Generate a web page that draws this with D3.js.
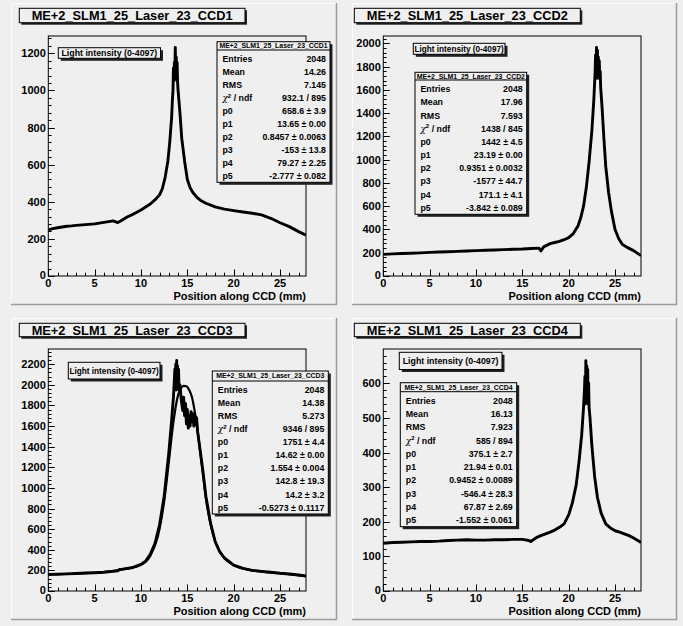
<!DOCTYPE html>
<html><head><meta charset="utf-8">
<script src="https://cdn.jsdelivr.net/npm/d3@7"></script>
<style>
body{margin:0;background:#efefef;}
svg{display:block;font-family:"Liberation Sans",Arial,Helvetica,sans-serif;font-weight:bold;}
</style>
</head><body><svg id="c" width="683" height="626"></svg>
<script>
// ---------------- data ----------------
const padTitles = ["ME+2_SLM1_25_Laser_23_CCD1","ME+2_SLM1_25_Laser_23_CCD2","ME+2_SLM1_25_Laser_23_CCD3","ME+2_SLM1_25_Laser_23_CCD4"];
const legendLabel = "Light intensity (0-4097)";
const xAxisTitle = "Position along CCD (mm)";
const xTickLabels = [0,5,10,15,20,25];
const ccd1YTicks = [0,200,400,600,800,1000,1200];
const ccd2YTicks = [0,200,400,600,800,1000,1200,1400,1600,1800,2000];
const ccd3YTicks = [0,200,400,600,800,1000,1200,1400,1600,1800,2000,2200];
const ccd4YTicks = [0,100,200,300,400,500,600];
const yMaxes = [1293, 2063, 2347, 699];
const xMaxes = [27.8, 27.8, 27.8, 27.8];

const statLabels = ["Entries","Mean","RMS","chi2","p0","p1","p2","p3","p4","p5"];
const ccd1Stats = ["2048","14.26","7.145","932.1 / 895","658.6 \u00b1 3.9","13.65 \u00b1 0.00","0.8457 \u00b1 0.0063","-153 \u00b1 13.8","79.27 \u00b1 2.25","-2.777 \u00b1 0.082"];
const ccd2Stats = ["2048","17.96","7.593","1438 / 845","1442 \u00b1 4.5","23.19 \u00b1 0.00","0.9351 \u00b1 0.0032","-1577 \u00b1 44.7","171.1 \u00b1 4.1","-3.842 \u00b1 0.089"];
const ccd3Stats = ["2048","14.38","5.273","9346 / 895","1751 \u00b1 4.4","14.62 \u00b1 0.00","1.554 \u00b1 0.004","142.8 \u00b1 19.3","14.2 \u00b1 3.2","-0.5273 \u00b1 0.1117"];
const ccd4Stats = ["2048","16.13","7.923","585 / 894","375.1 \u00b1 2.7","21.94 \u00b1 0.01","0.9452 \u00b1 0.0089","-546.4 \u00b1 28.3","67.87 \u00b1 2.69","-1.552 \u00b1 0.061"];

const ccd1X = [0,0.5,1,1.5,2,2.5,3,4,5,6,7,7.5,7.8,8.5,9,10,10.5,11,11.5,12,12.3,12.6,12.9,13.1,13.3,13.4,13.45,13.5,13.55,13.6,13.65,13.7,13.75,13.8,13.85,13.9,13.95,14.0,14.2,14.4,14.7,15.0,15.3,15.6,16,16.5,17,18,19,20,21,22,23,24,25,26,27,27.8];
const ccd1Y = [248,255,260,264,268,270,273,277,281,289,297,288,296,318,329,356,372,388,410,437,470,530,620,720,850,960,1000,1120,1050,1150,1080,1231,1060,1180,1090,1150,1040,1000,880,740,620,520,475,450,425,405,392,372,360,352,345,338,329,311,287,266,239,220];

const ccd2X = [0,1,2,3,4,5,6,7,8,9,10,11,12,13,14,15,16,16.8,17.0,17.3,18,18.5,19,19.5,20,20.5,21,21.3,21.6,21.9,22.2,22.5,22.7,22.85,22.9,22.95,23.0,23.05,23.1,23.15,23.2,23.25,23.3,23.35,23.4,23.45,23.6,23.8,24.0,24.3,24.6,25,25.4,25.8,26.3,27,27.8];
const ccd2Y = [186,190,193,196,199,203,206,209,212,215,218,221,224,227,230,232,236,240,215,250,278,288,298,312,330,365,430,500,600,760,980,1250,1500,1750,1900,1700,1965,1720,1940,1700,1880,1730,1850,1700,1760,1620,1450,1180,940,720,560,400,320,270,246,218,175];

const ccd3X = [0,1,2,3,4,5,6,7,7.5,7.7,8,9,10,10.5,11,11.5,12,12.5,13,13.3,13.5,13.6,13.65,13.7,13.75,13.8,13.85,13.9,13.95,14.0,14.05,14.1,14.2,14.35,14.5,14.6,14.7,14.8,14.9,15.0,15.1,15.2,15.3,15.4,15.5,15.6,15.7,15.8,15.9,16.0,16.1,16.4,16.7,17,17.5,18,18.5,19,20,21,22,23,24,25,26,27,27.8];
const ccd3Y = [161,163,166,170,174,177,182,190,195,210,212,225,258,290,355,460,640,920,1340,1650,1880,2050,2150,1980,2200,1950,2235,2000,2180,2050,2150,1950,2000,1850,1750,1880,1700,1820,1620,1760,1580,1700,1600,1740,1640,1720,1600,1700,1620,1680,1550,1350,1150,920,660,480,380,320,250,220,200,190,182,172,165,155,145];
const ccd3FitX = [0,5,8,10,11,12,12.5,13,13.5,14,14.3,14.6,14.9,15.2,15.5,15.8,16.1,16.4,16.7,17,17.5,18,19,20,22,25,27.8];
const ccd3FitY = [161,177,210,255,340,600,870,1250,1640,1900,1965,1990,1985,1950,1880,1740,1560,1340,1120,900,650,480,320,250,200,172,145];

const ccd4X = [0,1,2,3,4,5,6,7,8,9,10,11,12,13,14,15,15.7,15.9,16.5,17,17.5,18,18.5,19,19.5,20,20.4,20.8,21.1,21.4,21.6,21.7,21.75,21.8,21.85,21.9,21.95,22.0,22.05,22.1,22.15,22.2,22.3,22.5,22.8,23.1,23.5,24,24.5,25,25.5,26,26.5,27,27.5,27.8];
const ccd4Y = [138,140,141,142,143,143,144,146,147,148,147,147,148,148,149,149,146,143,154,160,165,170,176,184,194,220,255,305,370,450,530,580,620,540,665,560,650,550,640,540,600,530,500,420,330,270,225,194,182,174,170,165,160,153,145,140];

// ---------------- layout ----------------
const layout = [
  {pad:[11,3,337,305], title:[19.3,8.3,245,22.7], frame:[48.3,36,306,276], legend:[58.3,47.7,160.5,58.3], stats:[217,41.7,330,182.3,50]},
  {pad:[352,3,677,305], title:[354.3,8.3,580.3,22.7], frame:[383.3,36,641,276], legend:[413.3,43.3,505,54.3], stats:[415,72.3,526.7,214.3,80]},
  {pad:[11,318,337,620], title:[19.3,323.3,245,336.7], frame:[48.3,349,306,591], legend:[68.3,362.3,160,379], stats:[212.3,371,328.3,514,381]},
  {pad:[352,318,677,620], title:[354.3,323.3,580.3,336.7], frame:[383.3,349,641,591], legend:[399.3,352.3,502,369.5], stats:[400.3,382.7,516.7,526.7,391.7]}
];
const series = [
  {x:ccd1X, y:ccd1Y, ticks:ccd1YTicks, minor:40, stats:ccd1Stats},
  {x:ccd2X, y:ccd2Y, ticks:ccd2YTicks, minor:40, stats:ccd2Stats},
  {x:ccd3X, y:ccd3Y, ticks:ccd3YTicks, minor:40, stats:ccd3Stats, fitX:ccd3FitX, fitY:ccd3FitY},
  {x:ccd4X, y:ccd4Y, ticks:ccd4YTicks, minor:20, stats:ccd4Stats}
];
const legendFont = [8.8, 8.2, 8.2, 8.8];

const svg = d3.select("#c");
const BG = "#efefef";
svg.append("rect").attr("width",683).attr("height",626).attr("fill",BG);

function pave(g, b, shadow){
  const [x0,y0,x1,y1] = b;
  g.append("rect").attr("x",x0+shadow).attr("y",y0+shadow).attr("width",x1-x0).attr("height",y1-y0).attr("fill","#222");
  g.append("rect").attr("x",x0).attr("y",y0).attr("width",x1-x0).attr("height",y1-y0).attr("fill",BG).attr("stroke","#000").attr("stroke-width",1);
}

layout.forEach((L,i)=>{
  const S = series[i];
  const g = svg.append("g");
  const [px0,py0,px1,py1] = L.pad;
  g.append("path").attr("d",`M${px0+0.5},${py1}V${py0+0.5}H${px1}`).attr("fill","none").attr("stroke","#fdfdfd").attr("stroke-width",1);
  g.append("path").attr("d",`M${px0},${py1-0.5}H${px1-0.5}V${py0}`).attr("fill","none").attr("stroke","#9c9c9c").attr("stroke-width",1.5);

  const [fx0,fy0,fx1,fy1] = L.frame;
  const x = d3.scaleLinear().domain([0,xMaxes[i]]).range([fx0,fx1]);
  const y = d3.scaleLinear().domain([0,yMaxes[i]]).range([fy1,fy0]);

  g.append("rect").attr("x",fx0).attr("y",fy0).attr("width",fx1-fx0).attr("height",fy1-fy0).attr("fill","none").attr("stroke","#000").attr("stroke-width",1);

  const yMinor = d3.range(0, yMaxes[i], S.minor);
  g.selectAll(null).data(yMinor).enter().append("line")
    .attr("x1",fx0).attr("x2",d=> fx0 + (S.ticks.includes(d)?6.5:3.3))
    .attr("y1",d=>Math.round(y(d))+0.5).attr("y2",d=>Math.round(y(d))+0.5).attr("stroke","#000").attr("stroke-width",1);
  g.selectAll(null).data(S.ticks).enter().append("text")
    .attr("x",fx0-2.5).attr("y",d=>y(d)+ (d===0? 2.5:4)).attr("text-anchor","end").attr("font-size",11).text(d=>d);

  const xMinor = d3.range(0, xMaxes[i], 1);
  g.selectAll(null).data(xMinor).enter().append("line")
    .attr("y1",fy1).attr("y2",d=> fy1 - (d%5===0?6.5:3.3))
    .attr("x1",d=>Math.round(x(d))+0.5).attr("x2",d=>Math.round(x(d))+0.5).attr("stroke","#000").attr("stroke-width",1);
  g.selectAll(null).data(xTickLabels).enter().append("text")
    .attr("x",d=>x(d)).attr("y",fy1+10.5).attr("text-anchor","middle").attr("font-size",11).text(d=>d);
  g.append("text").attr("x",fx1).attr("y",fy1+24).attr("text-anchor","end").attr("font-size",11).text(xAxisTitle);

  const clipId = "clip"+i;
  svg.append("clipPath").attr("id",clipId).append("rect").attr("x",fx0).attr("y",fy0).attr("width",fx1-fx0).attr("height",fy1-fy0);
  const line = d3.line().x(d=>x(d[0])).y(d=>y(d[1]));
  g.append("path").attr("clip-path",`url(#${clipId})`).attr("d", line(S.x.map((v,k)=>[v,S.y[k]])))
    .attr("fill","none").attr("stroke","#000").attr("stroke-width",2.9).attr("stroke-linejoin","round");
  if (S.fitX){
    g.append("path").attr("clip-path",`url(#${clipId})`).attr("d", d3.line().curve(d3.curveMonotoneX).x(d=>x(d[0])).y(d=>y(d[1]))(S.fitX.map((v,k)=>[v,S.fitY[k]])))
      .attr("fill","none").attr("stroke","#000").attr("stroke-width",2.2);
  }

  pave(g, L.title, 2);
  g.append("text").attr("x",(L.title[0]+L.title[2])/2).attr("y",(L.title[1]+L.title[3])/2+4.6)
    .attr("text-anchor","middle").attr("font-size",12.8).text(padTitles[i]);

  pave(g, L.legend, 2.5);
  g.append("text").attr("x",(L.legend[0]+L.legend[2])/2).attr("y",(L.legend[1]+L.legend[3])/2+3.1)
    .attr("text-anchor","middle").attr("font-size",legendFont[i]).text(legendLabel);

  const [sx0,sy0,sx1,sy1,sh] = L.stats;
  pave(g, [sx0,sy0,sx1,sy1], 2.5);
  g.append("line").attr("x1",sx0).attr("x2",sx1).attr("y1",sh).attr("y2",sh).attr("stroke","#000").attr("stroke-width",1);
  g.append("text").attr("x",(sx0+sx1)/2).attr("y",(sy0+sh)/2+2.4).attr("text-anchor","middle").attr("font-size",6.9).text(padTitles[i]);
  const rowH = (sy1 - sh - 2.5)/10;
  statLabels.forEach((lab,k)=>{
    const cy = sh + 2.5 + rowH*(k+0.5) + 3.1;
    const t = g.append("text").attr("x",sx0+5.5).attr("y",cy).attr("font-size",8.8);
    if (lab==="chi2"){
      t.append("tspan").attr("font-weight","normal").attr("font-family","DejaVu Serif, serif").attr("font-style","italic").text("\u03c7");
      t.append("tspan").attr("font-size",6).attr("dy",-3.5).text("2");
      t.append("tspan").attr("dy",3.5).text(" / ndf");
    } else t.text(lab);
    g.append("text").attr("x",sx1-4).attr("y",cy).attr("text-anchor","end").attr("font-size",8.8).text(S.stats[k]);
  });
});
</script>
</body></html>
